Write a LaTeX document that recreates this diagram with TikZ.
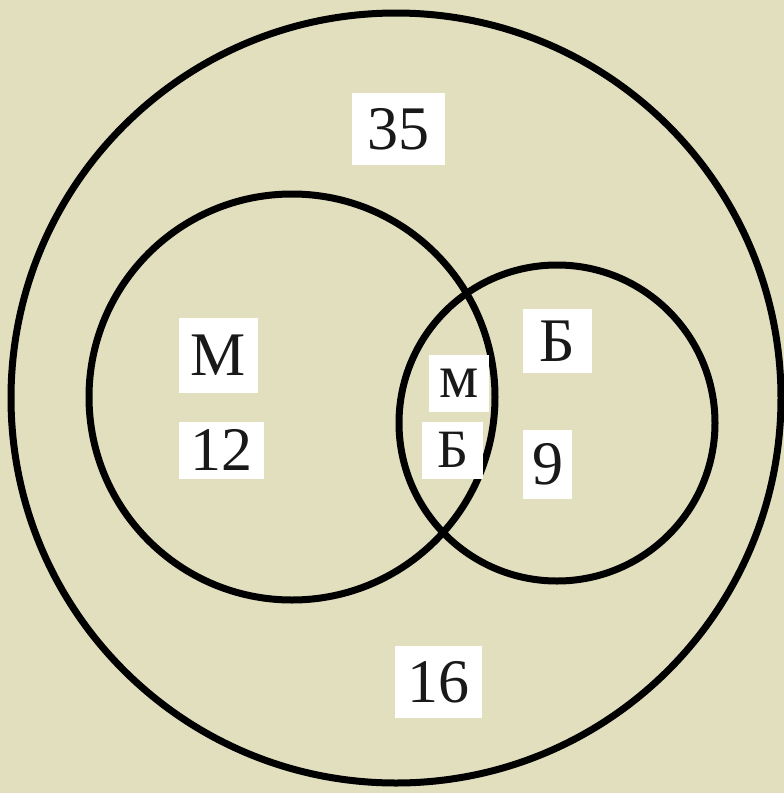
\documentclass[tikz,border=0pt]{standalone}
\usepackage{fontspec}
\setmainfont{Liberation Serif}
\definecolor{paper}{RGB}{226,223,191}
\begin{document}
\begin{tikzpicture}[x=1pt,y=-1pt,
  ring/.style={draw=black,line width=7pt},
  lab/.style={fill=white,inner sep=0pt,font=\fontsize{62}{62}\selectfont,text=black!90}]
\fill[paper] (0,0) rectangle (784,793);
\useasboundingbox (0,0) rectangle (784,793);
\draw[ring] (396,398) circle[radius=385pt];
\draw[ring] (292,397) circle[radius=203pt];
\draw[ring] (557,423) circle[radius=158pt];
\node[lab,minimum width=93pt,minimum height=72pt] (n35) at (398.5,129) {35};
\node[lab,minimum width=79pt,minimum height=75pt] (M) at (218.5,355) {М};
\node[lab,minimum width=85pt,minimum height=57pt] (n12) at (221.5,450) {12};
\node[lab,minimum width=60pt,minimum height=57pt] (m) at (459,383) {м};
\node[lab,minimum width=61pt,minimum height=57pt,font=\fontsize{54}{54}\selectfont] (Bm) at (452.5,450) {Б};
\node[lab,minimum width=69pt,minimum height=64pt] (B) at (557.5,341) {Б};
\node[lab,minimum width=49pt,minimum height=69pt] (n9) at (547.5,464) {9};
\node[lab,minimum width=87pt,minimum height=72pt] (n16) at (438.5,682) {16};
\end{tikzpicture}
\end{document}
